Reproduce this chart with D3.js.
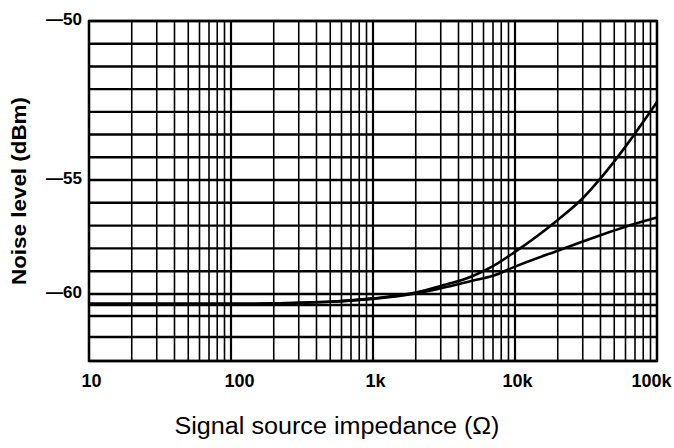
<!DOCTYPE html>
<html>
<head>
<meta charset="utf-8">
<script src="https://cdn.jsdelivr.net/npm/d3@7"></script>
<style>
  body { margin: 0; background: #fff; }
  svg { display: block; font-family: "Liberation Sans", Arial, sans-serif; }
</style>
</head>
<body>
<svg id="main_svg" width="674" height="448"></svg>
<script>
// values
const impedance = [10, 100, 500, 1000, 2000, 3000, 5000, 7000, 10000, 20000, 30000, 40000, 60000, 100000];
const upperLevel = [-60.45, -60.45, -60.35, -60.2, -59.94, -59.65, -59.22, -58.78, -58.15, -56.75, -55.8, -54.95, -53.95, -52.55];
const lowerLevel = [-60.45, -60.45, -60.35, -60.22, -59.98, -59.75, -59.42, -59.2, -58.8, -58.1, -57.7, -57.42, -57.05, -56.65];

const xTicks = [10, 100, 1000, 10000, 100000];
const xTickLabels = ["10", "100", "1k", "10k", "100k"];
const yTicks = [-50, -55, -60];
const yTickLabels = ["\u201450", "\u201455", "\u201460"];

const plot = {left: 89, right: 657, top: 21, bottom: 361};

const svg = d3.select("#main_svg");

const x = d3.scaleLog().domain([10, 100000]).range([plot.left, plot.right]);
// the printed grid is not evenly spaced, so the y scale is piecewise
const y = d3.scaleLinear()
  .domain([-63, -62, -61, -60, -55, -50])
  .range([plot.bottom, 337, 316, 294, 180, plot.top]);

// vertical grid: 1..9 in each decade
let gridX = [];
for (let d = 10; d < 100000; d *= 10) {
  for (let k = 1; k < 10; k++) gridX.push(d * k);
}
gridX.push(100000);

// horizontal grid
let gridY = [-63, -62, -61, -60.5, -60, -59, -58, -57, -56, -55];
for (let k = 1; k <= 7; k++) gridY.push(-55 + 5 * k / 7);

const grid = svg.append("g").attr("id", "grid_g");
grid.selectAll(".vline").data(gridX).enter().append("line")
  .attr("class", "vline")
  .attr("x1", d => x(d)).attr("x2", d => x(d))
  .attr("y1", plot.top).attr("y2", plot.bottom)
  .attr("stroke", "#000")
  .attr("stroke-width", d => xTicks.includes(d) ? 2.2 : 1.6);

grid.selectAll(".hline").data(gridY).enter().append("line")
  .attr("class", "hline")
  .attr("x1", plot.left).attr("x2", plot.right)
  .attr("y1", d => y(d)).attr("y2", d => y(d))
  .attr("stroke", "#000")
  .attr("stroke-width", 2.4);

// frame
svg.append("rect")
  .attr("x", plot.left).attr("y", plot.top)
  .attr("width", plot.right - plot.left).attr("height", plot.bottom - plot.top)
  .attr("fill", "none").attr("stroke", "#000").attr("stroke-width", 2.4);

// axes
const xAxis = svg.append("g").attr("id", "x_axis")
  .attr("transform", "translate(0," + plot.bottom + ")")
  .call(d3.axisBottom(x).tickValues(xTicks).tickSize(0).tickPadding(13)
    .tickFormat((d, i) => xTickLabels[i]));
xAxis.select(".domain").remove();
xAxis.selectAll("text")
  .attr("font-family", "'Liberation Sans', Arial, sans-serif")
  .attr("font-size", 18).attr("font-weight", "bold").attr("fill", "#000")
  .attr("dx", (d, i) => i == 1 ? 8 : (i == 4 ? -6 : 2));

const yAxis = svg.append("g").attr("id", "y_axis")
  .attr("transform", "translate(" + plot.left + ",0)")
  .call(d3.axisLeft(y).tickValues(yTicks).tickSize(0).tickPadding(7)
    .tickFormat((d, i) => yTickLabels[i]));
yAxis.select(".domain").remove();
yAxis.selectAll("text")
  .attr("font-family", "'Liberation Sans', Arial, sans-serif")
  .attr("font-size", 17).attr("font-weight", "bold").attr("fill", "#000")
  .attr("dy", "0.2em");

// curves
const line = d3.line()
  .x((d, i) => x(impedance[i]))
  .y(d => y(d))
  .curve(d3.curveMonotoneX);

svg.selectAll(".curve").data([upperLevel, lowerLevel]).enter().append("path")
  .attr("class", "curve")
  .attr("d", d => line(d))
  .attr("fill", "none").attr("stroke", "#000").attr("stroke-width", 2.6);

// titles
svg.append("text")
  .attr("x", 337).attr("y", 434)
  .attr("text-anchor", "middle")
  .attr("font-size", 23)
  .attr("textLength", 325).attr("lengthAdjust", "spacingAndGlyphs")
  .text("Signal source impedance (\u03A9)");

svg.append("text")
  .attr("transform", "translate(26,191)rotate(-90)")
  .attr("text-anchor", "middle")
  .attr("font-size", 21).attr("font-weight", "bold")
  .attr("textLength", 188).attr("lengthAdjust", "spacingAndGlyphs")
  .text("Noise level (dBm)");
</script>
</body>
</html>
